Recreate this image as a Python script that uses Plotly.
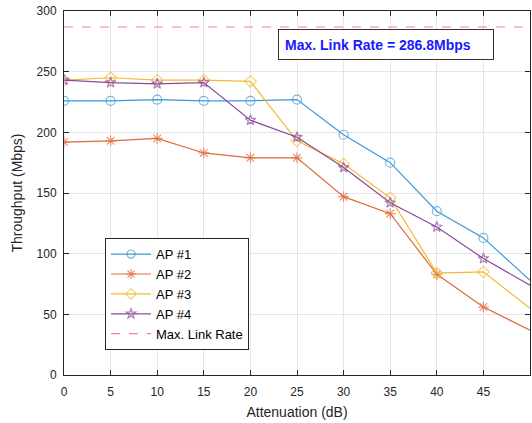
import plotly.graph_objects as go

attenuation = [0, 5, 10, 15, 20, 25, 30, 35, 40, 45, 50]
ap1 = [226, 226, 227, 226, 226, 227, 198, 175, 135, 113, 78]
ap2 = [192, 193, 195, 183, 179, 179, 147, 133, 83, 56, 37]
ap3 = [243, 245, 243, 243, 242, 193, 174, 146, 84, 85, 55]
ap4 = [243, 241, 240, 241, 210, 196, 171, 142, 122, 96, 74]
max_link_rate = 286.8
x_ticks = [0, 5, 10, 15, 20, 25, 30, 35, 40, 45]
y_ticks = [0, 50, 100, 150, 200, 250, 300]

series = [
    ("AP #1", ap1, "#3d9ad6", "circle-open", 9),
    ("AP #2", ap2, "#e2683a", "asterisk-open", 9),
    ("AP #3", ap3, "#f2bb35", "diamond-open", 9),
    ("AP #4", ap4, "#8b4a9c", "star-open", 8),
]

fig = go.Figure()
for name, vals, color, sym, msize in series:
    sizes = [msize] * (len(vals) - 1) + [0]
    fig.add_trace(go.Scatter(
        x=attenuation, y=vals, name=name, mode="lines+markers",
        line=dict(color=color, width=1.2),
        marker=dict(symbol=sym, size=sizes, color=color, line=dict(color=color, width=1.2)),
    ))

fig.add_trace(go.Scatter(
    x=[0, 50], y=[max_link_rate, max_link_rate], name="Max. Link Rate", mode="lines",
    line=dict(color="#ff8080", width=1.2, dash="dash"),
))

fig.add_annotation(
    x=22.96, y=272.4, xref="x", yref="y", xanchor="left", yanchor="middle",
    text="<b>Max. Link Rate = 286.8Mbps</b>", showarrow=False, align="left",
    width=202, height=17,
    font=dict(family="Liberation Sans, Arial", size=14, color="#1a1aff"),
    bordercolor="#333333", borderwidth=1, borderpad=6, bgcolor="white",
)

axis_common = dict(
    showline=True, linecolor="#262626", linewidth=1, mirror="ticks",
    ticks="inside", ticklen=5, tickcolor="#262626",
    showgrid=True, gridcolor="#e6e6e6", gridwidth=1, zeroline=False,
    tickfont=dict(family="Liberation Sans, Arial", size=12, color="#262626"),
)

fig.update_xaxes(range=[0, 50], tickvals=x_ticks, ticklabelstandoff=6, **axis_common,
                 title=dict(text="Attenuation (dB)", standoff=8,
                            font=dict(family="Liberation Sans, Arial", size=14, color="#262626")))
fig.update_yaxes(range=[0, 300], tickvals=y_ticks, ticklabelstandoff=4, **axis_common,
                 title=dict(text="Throughput (Mbps)", standoff=10,
                            font=dict(family="Liberation Sans, Arial", size=14, color="#262626")))

fig.update_layout(
    width=532, height=423,
    margin=dict(l=64, r=2, t=11, b=48, autoexpand=False),
    plot_bgcolor="white", paper_bgcolor="white",
    legend=dict(x=0.088, y=0.376, xanchor="left", yanchor="top",
                bgcolor="white", bordercolor="#262626", borderwidth=1,
                font=dict(family="Liberation Sans, Arial", size=13, color="#000000"),
                itemwidth=40, tracegroupgap=0),
    showlegend=True,
)

fig.write_html("out.html", config={"displayModeBar": False},
               post_script="document.body.style.margin='0';")
